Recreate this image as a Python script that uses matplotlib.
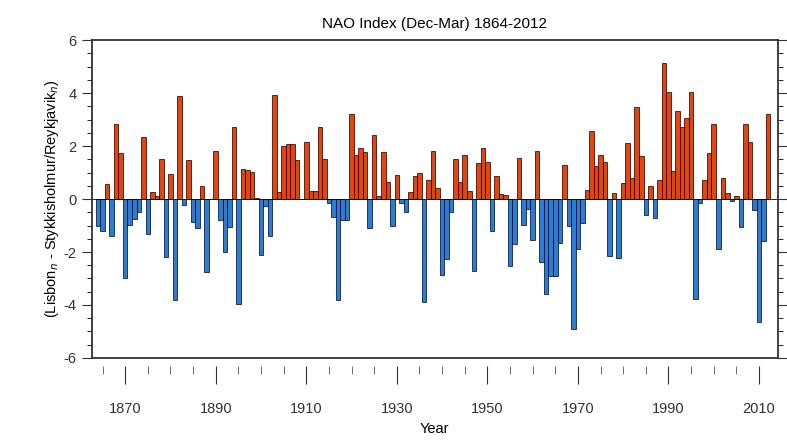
import matplotlib
matplotlib.use('Agg')
import matplotlib.pyplot as plt
import numpy as np
from matplotlib.ticker import MultipleLocator

plt.rcParams['font.family'] = ['Liberation Sans', 'DejaVu Sans']
plt.rcParams['axes.unicode_minus'] = False

# NAO index (Dec-Mar), one value per year starting 1864
first_year = 1864
nao = [
    -1.0, -1.2, 0.57, -1.38, 2.83, 1.72,                              # 1864-1869
    -3.0, -0.98, -0.75, -0.48, 2.35, -1.32, 0.25, 0.13, 1.5, -2.2,    # 1870s
    0.94, -3.8, 3.9, -0.21, 1.47, -0.88, -1.1, 0.48, -2.74, 0.0,      # 1880s
    1.8, -0.8, -2.0, -1.07, 2.7, -3.96, 1.13, 1.1, 1.03, 0.05,        # 1890s
    -2.1, -0.28, -1.4, 3.92, 0.25, 1.99, 2.07, 2.07, 1.47, 0.0,       # 1900s
    2.14, 0.31, 0.29, 2.73, 1.5, -0.16, -0.67, -3.81, -0.78, -0.78,   # 1910s
    3.2, 1.66, 1.91, 1.76, -1.1, 2.42, 0.13, 1.76, 0.63, -1.0,        # 1920s
    0.92, -0.15, -0.48, 0.25, 0.88, 0.98, -3.9, 0.72, 1.8, 0.4,       # 1930s
    -2.87, -2.26, -0.5, 1.5, 0.65, 1.67, 0.29, -2.7, 1.35, 1.91,      # 1940s
    1.41, -1.22, 0.86, 0.19, 0.16, -2.54, -1.7, 1.55, -0.98, -0.38,   # 1950s
    -1.53, 1.82, -2.39, -3.6, -2.89, -2.89, -1.67, 1.3, -1.03, -4.9,  # 1960s
    -1.89, -0.92, 0.35, 2.55, 1.26, 1.66, 1.41, -2.14, 0.21, -2.24,   # 1970s
    0.59, 2.1, 0.8, 3.46, 1.64, -0.6, 0.5, -0.73, 0.73, 5.12,         # 1980s
    4.03, 1.07, 3.33, 2.7, 3.05, 4.03, -3.77, -0.15, 0.73, 1.74,      # 1990s
    2.83, -1.89, 0.79, 0.23, -0.06, 0.12, -1.07, 2.83, 2.14, -0.4,    # 2000s
    -4.63, -1.57, 3.2,                                                # 2010-2012
]
years = np.arange(first_year, first_year + len(nao))
vals = np.array(nao)

title = 'NAO Index (Dec-Mar) 1864-2012'
ylab = r'(Lisbon$_n$ - Stykkisholmur/Reykjavik$_n$)'
xlab = 'Year'

red = '#e8420f'
blue = '#2b7cd8'
colors = [red if v >= 0 else blue for v in vals]

fig = plt.figure(figsize=(7.87, 4.40), dpi=100)
ax = fig.add_axes([0.1165, 0.1864, 0.8715, 0.7226])

ax.bar(years, vals, width=1.0, color=colors, edgecolor='black', linewidth=0.5)
ax.axhline(0, color='black', linewidth=0.6)

ax.set_xlim(1862.6, 2014.1)
ax.set_ylim(-6, 6)

for s in ax.spines.values():
    s.set_linewidth(1.3)
    s.set_color('#333333')

ax.yaxis.set_major_locator(MultipleLocator(2))
ax.yaxis.set_minor_locator(MultipleLocator(0.5))
ax.tick_params(axis='y', which='major', direction='out', length=7, width=0.8,
               left=True, right=True, labelsize=10.5, pad=4, colors='#333333')
ax.tick_params(axis='y', which='minor', direction='out', length=3.5, width=0.6,
               left=True, right=True)
ax.tick_params(axis='x', which='both', bottom=False, top=False,
               labelbottom=False)

# detached year axis below the frame
sec = ax.secondary_xaxis(-0.025)
sec.spines['bottom'].set_visible(False)
sec.set_xticks(np.arange(1870, 2011, 20))
sec.xaxis.set_minor_locator(MultipleLocator(5))
sec.tick_params(which='major', direction='out', length=13, width=0.8,
                labelsize=10.5, pad=13, colors='#333333')
sec.tick_params(which='minor', direction='out', length=6, width=0.6,
                colors='#555555')
sec.set_xlabel(xlab, fontsize=10.5, labelpad=4)

ax.set_ylabel(ylab, fontsize=10.5, labelpad=2)
ax.set_title(title, fontsize=11, pad=9)

fig.savefig('out.png', dpi=100)
